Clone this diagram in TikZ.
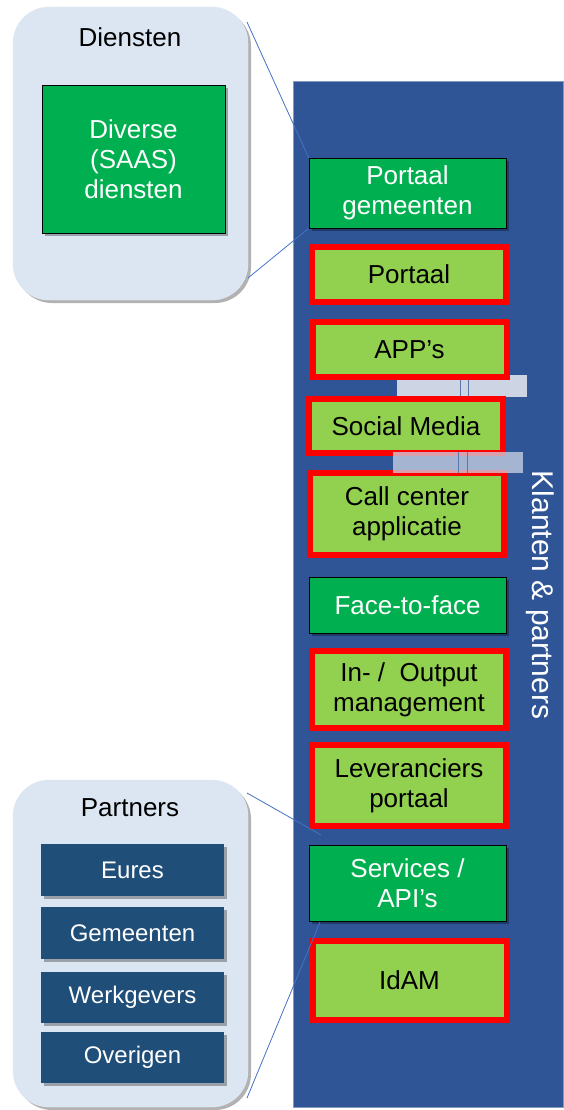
\documentclass[tikz,border=0pt]{standalone}
\usepackage{fontspec}
\setmainfont{Liberation Sans}
\usetikzlibrary{shadows}

\definecolor{bigblue}{HTML}{2F5597}
\definecolor{calloutfill}{HTML}{DCE6F2}
\definecolor{darkgreen}{HTML}{00B050}
\definecolor{lightgreen}{HTML}{92D050}
\definecolor{partnerblue}{HTML}{1F4E79}
\definecolor{pointerblue}{HTML}{4472C4}
\definecolor{barfill}{HTML}{CDD5E5}

\begin{document}
\begin{tikzpicture}[x=1pt, y=-1pt,
    boxfont/.style={font=\fontsize{26}{30}\selectfont, align=center},
    shade/.style={drop shadow={shadow xshift=3pt, shadow yshift=-3pt, opacity=0.3, fill=black}},
    greenbox/.style={boxfont, shade, fill=darkgreen, draw=black, line width=0.8pt, text=white, inner sep=0pt},
    redbox/.style={boxfont, shade, fill=lightgreen, draw=red, line width=6pt, text=black, inner sep=0pt, minimum width=194pt},
    partnerbox/.style={font=\fontsize{24}{28}\selectfont, shade, fill=partnerblue, text=white, inner sep=0pt, minimum width=183pt},
    callout/.style={shade, fill=calloutfill, draw=calloutfill!80!white, rounded corners=36pt},
    pointer/.style={draw=pointerblue, line width=0.8pt},
    bar/.style={fill=barfill, draw=none}]
    \useasboundingbox (0,0) rectangle (564,1110);

    % Klanten & partners column
    \draw[fill=bigblue, draw=bigblue!60!white, line width=1pt] (293,82) rectangle (563,1107);
    \node[rotate=-90, text=white, font=\fontsize{30}{34}\selectfont] (klanten) at (540,595) {Klanten \& partners};

    % light bars behind the channels
    \fill[bar] (397,375) rectangle (527,397);
    \draw[bigblue!80!white, line width=1pt] (460,375) -- (460,397) (468,375) -- (468,397);

    % Diensten callout
    \draw[callout] (13,7) rectangle (248,300);
    \node[boxfont] (diensten) at (130,37) {Diensten};
    \node[greenbox, minimum width=183pt, minimum height=148pt] (diverse) at (133.5,159) {Diverse\\(SAAS)\\diensten};

    % Partners callout
    \draw[callout] (13,780) rectangle (248,1107);
    \node[boxfont] (partners) at (130,808) {Partners};
    \node[partnerbox, minimum height=52pt] (eures) at (132.5,870) {Eures};
    \node[partnerbox, minimum height=52pt] (gemeenten) at (132.5,933) {Gemeenten};
    \node[partnerbox, minimum height=51pt] (werkgevers) at (132.5,997.5) {Werkgevers};
    \node[partnerbox, minimum height=51pt] (overigen) at (132.5,1057.5) {Overigen};

    % channels
    \node[greenbox, minimum width=197pt, minimum height=70pt] (portaalgem) at (407.5,193) {Portaal\\gemeenten};
    \node[redbox, minimum height=55pt] (portaal) at (409,274.5) {Portaal};
    \node[redbox, minimum height=55pt] (apps) at (409.5,349.5) {APP’s};
    \node[redbox, minimum height=54pt] (social) at (406,426) {Social Media};
    \node[redbox, minimum height=82pt] (callcenter) at (407,514) {Call center\\applicatie};
    \node[greenbox, minimum width=197pt, minimum height=56pt] (face) at (407.5,605) {Face-to-face};
    \node[redbox, minimum height=77pt] (inout) at (409,689.5) {In- /\ \ Output\\management};
    \node[redbox, minimum height=81pt] (lever) at (409,785.5) {Leveranciers\\portaal};
    \node[greenbox, minimum width=197pt, minimum height=76pt] (services) at (407.5,883) {Services /\\API’s};
    \node[redbox, minimum height=79pt] (idam) at (409.5,980.5) {IdAM};

    % second bar lies over the call center box
    \fill[bar, opacity=0.75] (393,452) rectangle (523,473);
    \draw[bigblue!80!white, line width=1pt] (458,452) -- (458,473) (467,452) -- (467,473);

    % callout pointers
    \coordinate (dtop) at (247,22);
    \coordinate (dbot) at (248,278);
    \coordinate (ptop) at (247,793);
    \coordinate (pbot) at (247,1098);
    \coordinate (stop) at (321,835);
    \coordinate (sbot) at (320,922);
    \draw[pointer] (dtop) -- (portaalgem.north west);
    \draw[pointer] (dbot) -- (portaalgem.south west);
    \draw[pointer] (ptop) -- (stop);
    \draw[pointer] (pbot) -- (sbot);
\end{tikzpicture}
\end{document}
